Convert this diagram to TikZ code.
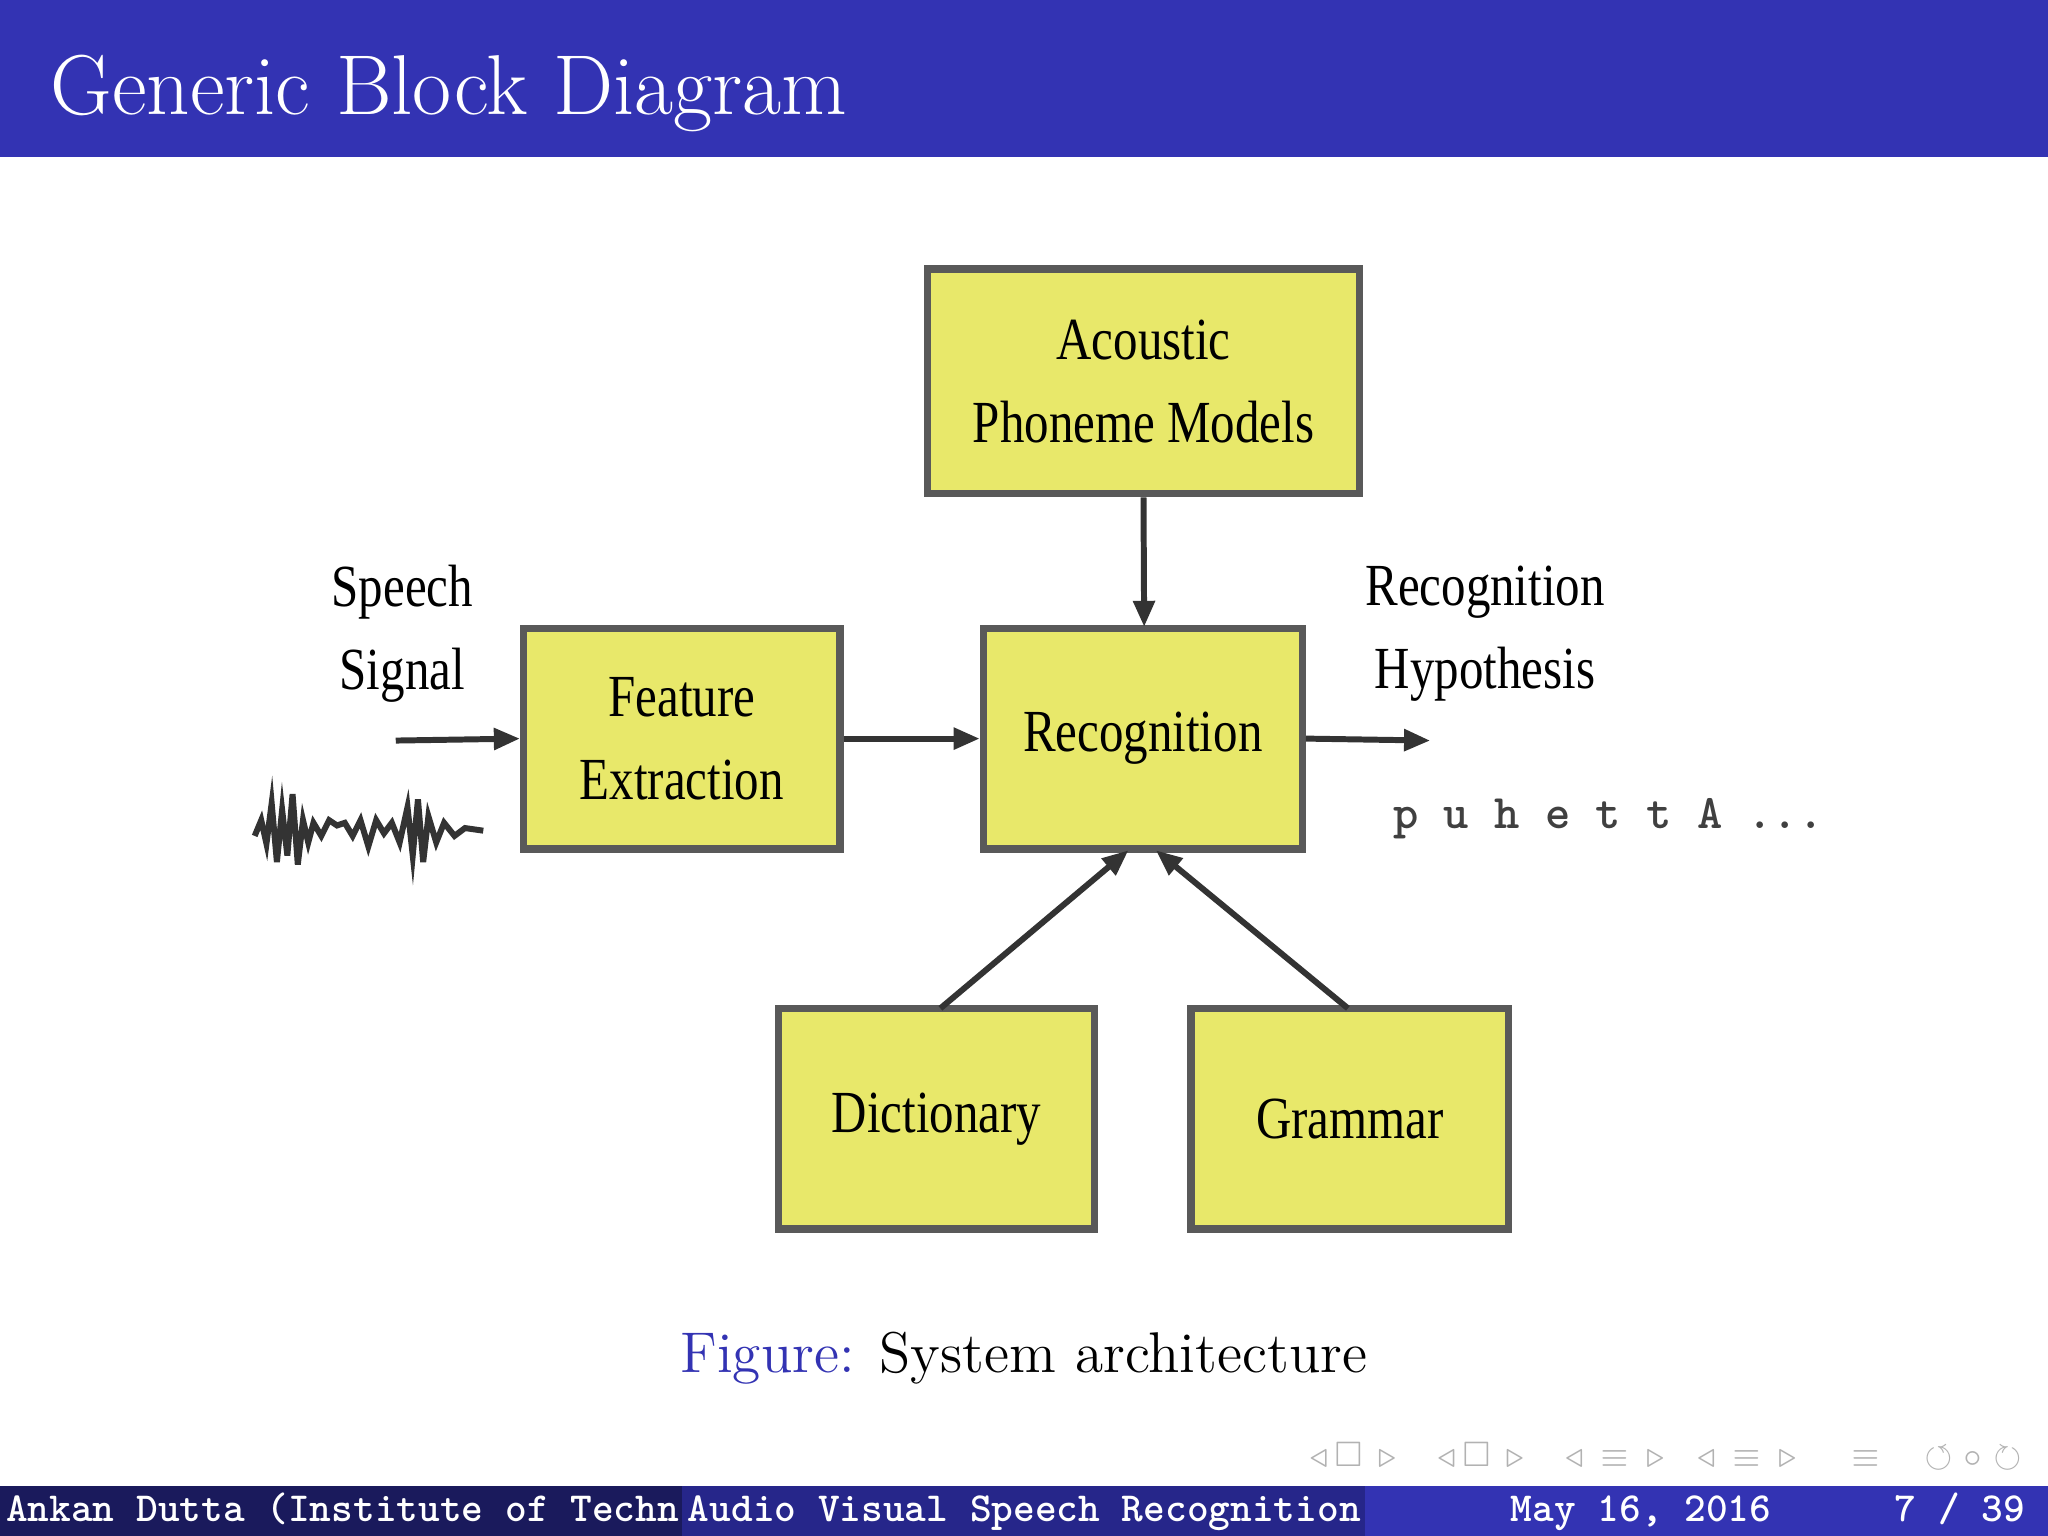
\documentclass[tikz,border=0pt]{standalone}
\usepackage{amssymb}
\usepackage{fontspec}
\newfontfamily\boxfont{Liberation Serif}
\usetikzlibrary{arrows.meta}
\definecolor{bar}{HTML}{3333B3}
\definecolor{barmid}{HTML}{26268A}
\definecolor{bardark}{HTML}{1A1A5C}
\definecolor{boxy}{HTML}{E8E86A}
\tikzset{
 blk/.style={draw=black!65,line width=1.6pt,fill=boxy,minimum width=#1},
 blk/.default=2.42cm,
 lbl/.style={font=\boxfont\fontsize{13}{18}\selectfont,align=center,xscale=0.82,transform shape},
 arr/.style={-{Triangle[length=0.2cm,width=0.16cm]},line width=1.3pt,black!80},
 foot/.style={font=\ttfamily\bfseries\fontsize{9}{10}\selectfont,white,anchor=base west,inner sep=0pt}
}
\begin{document}
\begin{tikzpicture}[x=0.01cm,y=-0.01cm]
\useasboundingbox (0,0) rectangle (1568,1176);
\fill[white] (0,0) rectangle (1568,1176);
\fill[bar] (0,0) rectangle (1568,120);
\node[anchor=base west,white,inner sep=0pt,font=\fontsize{18.5}{22}\selectfont] (title) at (38,88) {Generic Block Diagram};
% boxes
\node[blk,minimum height=1.72cm,minimum width=3.31cm] (ac) at (875.5,292) {};
\node[lbl] at (ac) {Acoustic\\Phoneme Models};
\node[blk,minimum height=1.69cm] (fe) at (522,565.5) {};
\node[lbl] at (fe) {Feature\\Extraction};
\node[blk,minimum height=1.69cm,minimum width=2.44cm] (re) at (875,565.5) {};
\node[lbl] at (re) {Recognition};
\node[blk,minimum height=1.69cm] (di) at (717,856.5) {};
\node[lbl] at (di) {Dictionary};
\node[blk,minimum height=1.69cm,minimum width=2.43cm] (gr) at (1033.5,856.5) {};
\node[lbl] at (gr) {Grammar};
% labels
\node[lbl] (sp) at (308,485) {Speech\\Signal};
\node[lbl] (rh) at (1137,485) {Recognition\\Hypothesis};
\node[font=\ttfamily\bfseries\fontsize{10.5}{12}\selectfont,text=black!75,anchor=west,inner sep=0pt] (ph) at (1066,627) {p u h e t t A ...};
\coordinate (sin) at (303,567);
\coordinate (rout) at (1095,567);
% arrows
\draw[arr] (ac.south) -- (876,480);
\draw[arr] (sin) -- (fe.west);
\draw[arr] (fe.east) -- (re.west);
\draw[arr] (re.east) -- (rout);
\draw[arr] (720,772) -- (864,651);
\draw[arr] (1032,772) -- (885,651);
% waveform
\draw[line width=1.3pt,black!80] (195,640) -- (200,628) -- (204,646) -- (208,615) -- (212,660) -- (216,620) -- (220,655) -- (224,608) -- (228,662) -- (232,628) -- (236,645) -- (240,630) -- (246,640) -- (252,628) -- (258,632) -- (264,630) -- (270,640) -- (276,628) -- (282,648) -- (288,628) -- (294,638) -- (300,630) -- (306,645) -- (312,618) -- (316,655) -- (320,612) -- (324,660) -- (328,625) -- (334,645) -- (340,630) -- (348,640) -- (356,634) -- (370,636);
% caption
\node[font=\fontsize{12.5}{14}\selectfont] (cap) at (784,1040) {\textcolor{bar}{Figure:} System architecture};
% nav symbols
\node[font=\fontsize{7}{8}\selectfont,text=black!30,anchor=west] (nav) at (990,1115) {$\triangleleft\,\square\,\triangleright\quad\triangleleft\,\square\,\triangleright\quad\triangleleft\,\equiv\,\triangleright\quad\triangleleft\,\equiv\,\triangleright\quad\ \equiv\quad\ \circlearrowleft\circ\circlearrowright$};
% footer
\fill[bardark] (0,1138) rectangle (522,1176);
\fill[barmid] (522,1138) rectangle (1045,1176);
\fill[bar] (1045,1138) rectangle (1568,1176);
\node[foot] (f1) at (4,1165) {Ankan Dutta (Institute of Techn};
\node[foot] (f2) at (526,1165) {Audio Visual Speech Recognition};
\node[foot] (f3) at (1156,1165) {May 16, 2016};
\node[foot] (f4) at (1450,1165) {7 / 39};
\end{tikzpicture}
\end{document}
